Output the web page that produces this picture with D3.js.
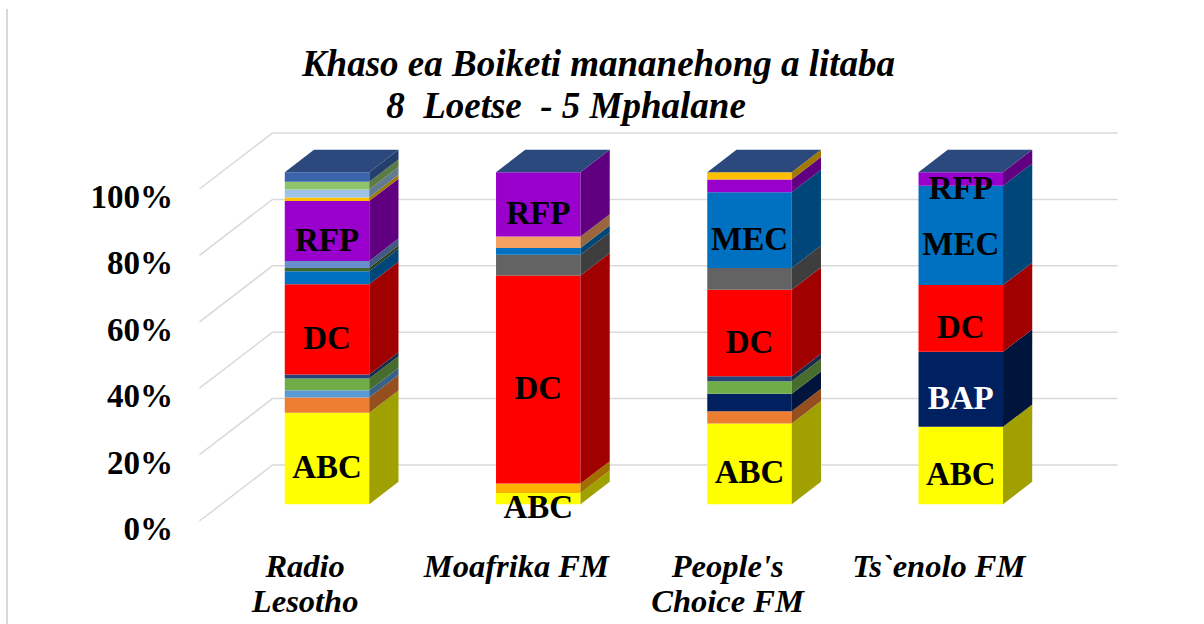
<!DOCTYPE html>
<html>
<head>
<meta charset="utf-8">
<script src="https://cdn.jsdelivr.net/npm/d3@7"></script>
<style>
  html, body { margin: 0; padding: 0; background: #fff; }
  svg { display: block; }
  text { font-family: "Liberation Serif", "Times New Roman", serif; font-weight: bold; }
</style>
</head>
<body>
<div id="chart"></div>
<script>
const categories = ["Radio Lesotho", "Moafrika FM", "People's Choice FM", "Ts`enolo FM"];
const categoryLines = [["Radio", "Lesotho"], ["Moafrika FM"], ["People's", "Choice FM"], ["Ts`enolo FM"]];

// series from bottom to top of each stack, values in % per category
const seriesNames  = ["ABC", "s2", "s3", "s4", "BAP", "s6", "s7", "DC", "s9", "MEC", "s11", "s12", "s13", "RFP", "s15", "s16", "s17", "s18"];
const seriesColors = ["#ffff00", "#ffb100", "#ed7d31", "#5b9bd5", "#002060", "#70ad47", "#264478", "#ff0000", "#636363", "#0070c0",
                      "#43682b", "#698ed0", "#f3a262", "#9900cc", "#ffc000", "#9dc3e6", "#8fc46a", "#3b64ad"];
const radioLesotho = [27.5, 0,   4.6, 2.2, 0,    3.5, 1.2, 27.2, 0,   3.9,  1.0, 2.1, 0,   18.0, 1.1, 2.4, 2.3, 2.9];
const moafrika     = [3.4,  2.8, 0,   0,   0,    0,   0,   62.7, 6.2, 2.1,  0,   0,   3.4, 19.4, 0,   0,   0,   0];
const peoples      = [24.3, 0,   3.7, 0,   5.2,  3.8, 1.5, 26.0, 6.6, 22.8, 0,   0,   0,   3.8,  2.2, 0,   0,   0];
const tsenolo      = [23.3, 0,   0,   0,   22.6, 0,   0,   20.1, 0,   29.9, 0,   0,   0,   4.1,  0,   0,   0,   0];
const seriesValues = [radioLesotho, moafrika, peoples, tsenolo];

const yTicks = [0, 0.2, 0.4, 0.6, 0.8, 1];
const yTickLabels = ["0%", "20%", "40%", "60%", "80%", "100%"];

const barLabels = [
  ["Radio Lesotho", "ABC"], ["Radio Lesotho", "DC"], ["Radio Lesotho", "RFP"],
  ["Moafrika FM", "ABC"], ["Moafrika FM", "DC"], ["Moafrika FM", "RFP"],
  ["People's Choice FM", "ABC"], ["People's Choice FM", "DC"], ["People's Choice FM", "MEC"],
  ["Ts`enolo FM", "ABC"], ["Ts`enolo FM", "BAP"], ["Ts`enolo FM", "DC"], ["Ts`enolo FM", "MEC"], ["Ts`enolo FM", "RFP"]
];
const whiteLabels = ["BAP"];

const titleLines = ["Khaso ea Boiketi mananehong a litaba", "8  Loetse  - 5 Mphalane"];

const width = 1204, height = 624;
const DX = 73, DY = -56;          // full depth of the 3d box
const barD0 = 0.3, barD1 = 0.7;   // bar depth inside the box

const svg = d3.select("#chart").append("svg")
  .attr("width", width)
  .attr("height", height);

svg.append("rect").attr("width", width).attr("height", height).attr("fill", "#fff");

// frame line on the left of the picture
svg.append("line")
  .attr("x1", 7).attr("x2", 7).attr("y1", 9).attr("y2", height)
  .attr("stroke", "#d9d9d9").attr("stroke-width", 2);

const x = d3.scaleBand()
  .domain(categories)
  .range([199.5, 1044.5])
  .paddingInner(0.6)
  .paddingOuter(0.3);

const y = d3.scaleLinear().domain([0, 1]).range([521, 189]);

const P = (px, v, d) => [px + d * DX, y(v) + d * DY];

// gridlines: side wall + back wall
const [gx0, gx1] = x.range();
svg.append("g")
  .selectAll("polyline")
  .data(yTicks)
  .join("polyline")
  .attr("points", v => [P(gx0, v, 0), P(gx0, v, 1), P(gx1, v, 1)].map(p => p.join(",")).join(" "))
  .attr("fill", "none")
  .attr("stroke", "#d9d9d9")
  .attr("stroke-width", 1.5);

// y labels
svg.append("g")
  .selectAll("text")
  .data(yTicks)
  .join("text")
  .attr("x", 173)
  .attr("y", v => y(v) + 19)
  .attr("text-anchor", "end")
  .attr("font-size", 33)
  .text((v, i) => yTickLabels[i]);

// stack
const table = categories.map((c, ci) => {
  const row = { cat: c };
  seriesNames.forEach((s, si) => { row[s] = seriesValues[ci][si]; });
  return row;
});
const stacked = d3.stack().keys(seriesNames).offset(d3.stackOffsetExpand)(table);

const poly = pts => pts.map(p => p.join(",")).join(" ");
const bw = x.bandwidth();

const bars = svg.append("g");
categories.forEach((c, ci) => {
  const g = bars.append("g");
  const xl = x(c), xr = x(c) + bw;
  stacked.forEach((layer, si) => {
    const [v0, v1] = layer[ci];
    if (v1 - v0 <= 0) return;
    const col = seriesColors[si];
    // front
    g.append("polygon")
      .attr("points", poly([P(xl, v0, barD0), P(xr, v0, barD0), P(xr, v1, barD0), P(xl, v1, barD0)]))
      .attr("fill", col);
    // side
    g.append("polygon")
      .attr("points", poly([P(xr, v0, barD0), P(xr, v0, barD1), P(xr, v1, barD1), P(xr, v1, barD0)]))
      .attr("fill", d3.color(col).darker(1.3));
  });
  // top face takes the colour of the last series
  const topCol = d3.color(seriesColors[seriesColors.length - 1]).darker(0.9);
  g.append("polygon")
    .attr("points", poly([P(xl, 1, barD0), P(xr, 1, barD0), P(xr, 1, barD1), P(xl, 1, barD1)]))
    .attr("fill", topCol);
});

// data labels
svg.append("g")
  .selectAll("text")
  .data(barLabels)
  .join("text")
  .attr("x", d => x(d[0]) + bw / 2 + barD0 * DX)
  .attr("y", d => {
    const ci = categories.indexOf(d[0]);
    const si = seriesNames.indexOf(d[1]);
    const [v0, v1] = stacked[si][ci];
    return (y(v0) + y(v1)) / 2 + barD0 * DY + 19.5;
  })
  .attr("text-anchor", "middle")
  .attr("font-size", 33)
  .attr("fill", d => whiteLabels.includes(d[1]) ? "#fff" : "#000")
  .text(d => d[1]);

// category labels
const cat = svg.append("g")
  .selectAll("text")
  .data(categories)
  .join("text")
  .attr("x", c => x(c) + bw / 2)
  .attr("y", 577)
  .attr("text-anchor", "middle")
  .attr("font-size", 32.5)
  .attr("font-style", "italic");
cat.selectAll("tspan")
  .data((c, i) => categoryLines[i])
  .join("tspan")
  .attr("x", function () { return d3.select(this.parentNode).attr("x"); })
  .attr("dy", (d, i) => i === 0 ? 0 : 35)
  .text(d => d);

// title
svg.append("text")
  .attr("x", 598.5).attr("y", 76)
  .attr("text-anchor", "middle")
  .attr("font-size", 37)
  .attr("font-style", "italic")
  .text(titleLines[0]);
svg.append("text")
  .attr("x", 566).attr("y", 118)
  .attr("text-anchor", "middle")
  .attr("font-size", 37)
  .attr("font-style", "italic")
  .style("white-space", "pre")
  .text(titleLines[1]);
</script>
</body>
</html>
